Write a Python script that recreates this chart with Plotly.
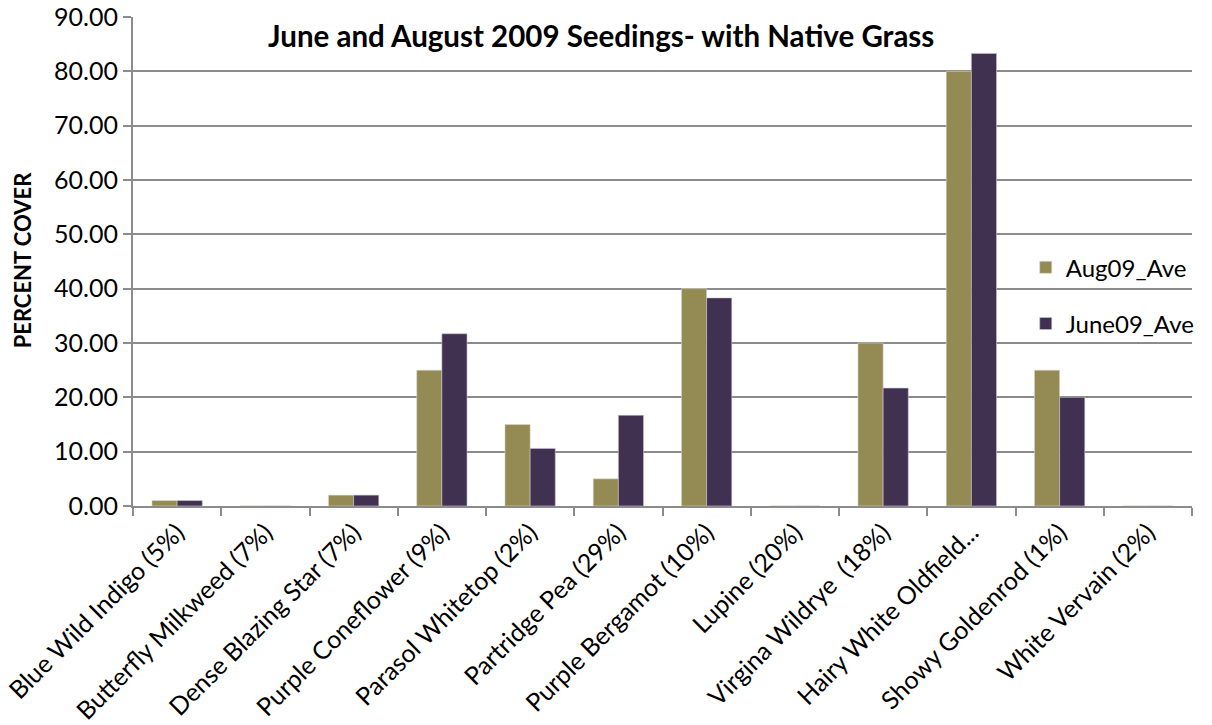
import plotly.graph_objects as go

# Species seeded (with seeding rate) and mean percent cover per survey
species = [
    "Blue Wild Indigo (5%)",
    "Butterfly Milkweed (7%)",
    "Dense Blazing Star (7%)",
    "Purple Coneflower (9%)",
    "Parasol Whitetop (2%)",
    "Partridge Pea (29%)",
    "Purple Bergamot (10%)",
    "Lupine (20%)",
    "Virgina Wildrye  (18%)",
    "Hairy White Oldfield...",
    "Showy Goldenrod (1%)",
    "White Vervain (2%)",
]
aug09_ave = [1.0, 0.0, 2.0, 25.0, 15.0, 5.0, 40.0, 0.0, 30.0, 80.0, 25.0, 0.0]
june09_ave = [1.0, 0.0, 2.0, 31.7, 10.6, 16.7, 38.3, 0.0, 21.7, 83.3, 20.0, 0.0]
y_ticks = [0, 10, 20, 30, 40, 50, 60, 70, 80, 90]

FONT = "Lato, 'Open Sans', sans-serif"
GRID = "#8c8c8c"

fig = go.Figure()
fig.add_trace(go.Bar(
    x=species, y=aug09_ave, name="Aug09_Ave", legendgroup="a",
    marker=dict(color="#948A54", line=dict(color="#d9d6c8", width=0.6)),
))
fig.add_trace(go.Bar(
    x=species, y=june09_ave, name="June09_Ave", legendgroup="b",
    marker=dict(color="#403151", line=dict(color="#c9c3d2", width=0.6)),
))

fig.update_layout(
    width=1212, height=725,
    margin=dict(l=133, r=17, t=17, b=219),
    paper_bgcolor="white", plot_bgcolor="white",
    barmode="group", bargap=0.43, bargroupgap=0.0,
    font=dict(family=FONT, color="#000000"),
    showlegend=True,
    legend=dict(
        x=0.843, y=0.43, xanchor="left", yanchor="middle",
        bgcolor="rgba(0,0,0,0)", font=dict(size=24, family=FONT),
        tracegroupgap=22, itemwidth=30,
    ),
    annotations=[
        dict(
            text="<b>June and August 2009 Seedings- with Native Grass</b>",
            xref="paper", yref="paper", x=0.4416, y=0.963,
            xanchor="center", yanchor="middle", showarrow=False,
            font=dict(size=29.5, family=FONT, color="#000000"),
        ),
        dict(
            text="<b>PERCENT COVER</b>",
            xref="paper", yref="paper", x=-0.1045, y=0.503,
            xanchor="center", yanchor="middle", showarrow=False, textangle=-90,
            font=dict(size=22, family=FONT, color="#000000"),
        ),
    ],
)

fig.update_xaxes(
    type="category", tickangle=-45, tickfont=dict(size=25, family=FONT),
    showline=True, linecolor=GRID, linewidth=2, automargin=False,
    ticks="outside", tickson="boundaries", ticklen=8, tickcolor=GRID, tickwidth=2,
    showgrid=False,
)
fig.update_yaxes(
    range=[0, 90], tickvals=y_ticks, tickformat=".2f", ticksuffix="\u2002",
    tickfont=dict(size=25, family=FONT), automargin=False,
    showline=True, linecolor=GRID, linewidth=2,
    ticks="outside", ticklen=8, tickcolor=GRID, tickwidth=2,
    showgrid=True, gridcolor=GRID, gridwidth=1.6,
    zeroline=False,
)

fig.write_html("out.html")
